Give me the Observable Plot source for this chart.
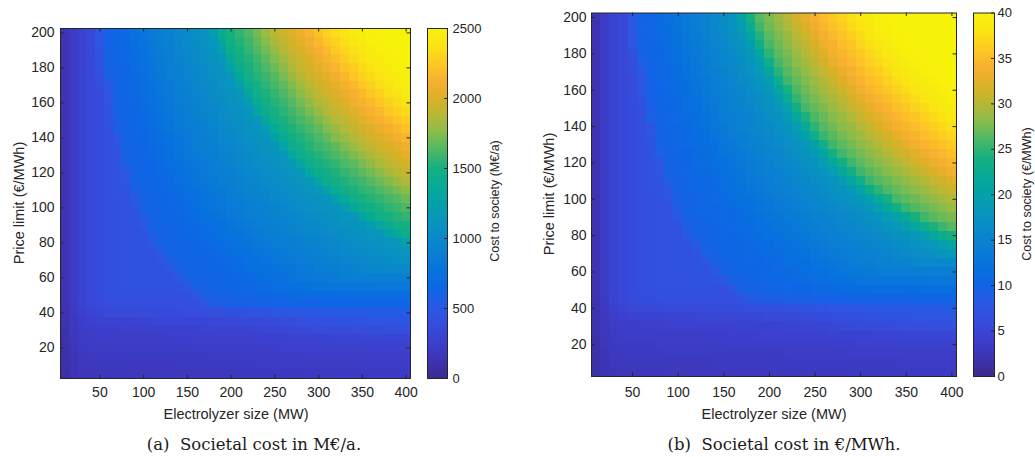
<!DOCTYPE html>
<html><head><meta charset="utf-8">
<script src="https://cdn.jsdelivr.net/npm/d3@7"></script>
<script src="https://cdn.jsdelivr.net/npm/@observablehq/plot@0.6"></script>
<style>
html,body{margin:0;padding:0;background:#fff;}
#fig{position:relative;width:1035px;height:457px;overflow:hidden;font-family:"Liberation Sans",Arial,sans-serif;color:#262626;}
.abs{position:absolute;}
.lbl{position:absolute;white-space:pre;transform:translate(-50%,-50%);line-height:1;}
.rot{transform:translate(-50%,-50%) rotate(-90deg);}
.cap{font-family:"DejaVu Serif",serif;font-size:16.5px;color:#1a1a1a;}
</style></head><body><div id="fig"></div>
<script>
// ---------------- data ----------------
const electrolyzerMW = [10,20,30,40,50,60,70,80,90,100,110,120,130,140,150,160,170,180,190,200,210,220,230,240,250,260,270,280,290,300,310,320,330,340,350,360,370,380,390,400];
const priceLimit = [200,195,190,185,180,175,170,165,160,155,150,145,140,135,130,125,120,115,110,105,100,95,90,85,80,75,70,65,60,55,50,45,40,35,30,25,20,15,10,5];

// Cost to society in M€/a (rows follow priceLimit, columns follow electrolyzerMW)
const costMEURperYear = [
[130,220,290,340,500,610,640,680,740,790,840,890,930,980,1020,1060,1100,1200,1410,1500,1570,1630,1710,1800,1880,1950,2010,2080,2140,2210,2280,2340,2380,2430,2460,2490,2500,2500,2500,2500],
[130,220,290,340,490,600,640,670,720,780,830,880,920,960,1010,1050,1090,1120,1340,1470,1530,1600,1670,1750,1840,1910,1970,2040,2100,2170,2230,2290,2350,2390,2440,2470,2490,2500,2500,2500],
[130,220,290,340,470,600,630,660,710,770,820,860,910,950,990,1030,1070,1110,1240,1430,1500,1570,1630,1710,1790,1870,1930,1990,2060,2120,2180,2250,2310,2360,2400,2440,2470,2490,2500,2500],
[130,220,290,340,450,590,630,660,700,750,800,850,890,930,980,1020,1060,1100,1130,1350,1470,1530,1590,1660,1740,1820,1890,1950,2010,2080,2140,2200,2260,2320,2370,2410,2450,2470,2490,2500],
[130,220,290,340,430,590,620,650,690,740,790,840,880,920,960,1000,1040,1080,1110,1250,1430,1500,1560,1620,1690,1770,1850,1910,1970,2030,2090,2150,2210,2270,2330,2370,2410,2450,2480,2490],
[130,220,290,340,400,570,610,640,680,730,780,830,870,910,950,980,1020,1060,1100,1130,1350,1470,1530,1580,1640,1720,1800,1870,1930,1990,2040,2100,2160,2220,2280,2330,2370,2410,2450,2480],
[130,220,290,340,380,500,610,640,670,720,760,810,850,890,930,970,1010,1040,1080,1110,1240,1410,1490,1550,1610,1670,1740,1820,1880,1940,2000,2050,2110,2170,2230,2280,2340,2370,2410,2450],
[130,220,290,340,380,480,600,630,660,700,750,800,840,880,920,950,990,1030,1060,1100,1130,1320,1450,1510,1570,1620,1690,1760,1840,1900,1950,2010,2060,2120,2170,2230,2280,2340,2370,2410],
[130,220,290,340,380,460,600,630,650,690,740,780,830,860,900,940,970,1010,1040,1080,1110,1200,1380,1480,1530,1580,1640,1710,1780,1850,1900,1960,2010,2070,2120,2170,2230,2280,2330,2370],
[130,220,290,340,380,440,590,620,650,680,720,770,810,850,890,920,960,990,1030,1060,1100,1120,1280,1430,1490,1550,1600,1650,1720,1790,1860,1910,1960,2020,2070,2120,2170,2230,2280,2330],
[130,220,290,340,380,430,580,610,640,670,710,750,790,840,870,900,940,970,1010,1040,1070,1100,1140,1330,1450,1510,1560,1610,1660,1730,1800,1860,1910,1960,2020,2070,2120,2170,2220,2270],
[130,220,290,340,380,420,570,610,630,660,690,740,780,820,860,890,920,950,990,1020,1050,1090,1110,1200,1370,1470,1520,1570,1620,1670,1740,1800,1860,1910,1960,2010,2060,2110,2160,2210],
[130,220,290,340,380,420,480,600,630,650,680,720,760,800,840,870,900,940,970,1000,1030,1060,1100,1120,1250,1400,1480,1520,1570,1620,1670,1740,1800,1860,1910,1960,2010,2050,2100,2150],
[130,220,290,340,380,420,460,600,620,640,670,700,740,780,820,860,890,920,950,980,1010,1040,1070,1100,1120,1280,1420,1480,1530,1580,1620,1670,1740,1800,1860,1900,1950,2000,2040,2090],
[130,220,290,340,380,420,440,590,610,640,660,690,730,770,800,840,870,900,930,960,990,1020,1050,1080,1100,1130,1300,1430,1490,1530,1580,1620,1670,1730,1790,1850,1900,1940,1990,2030],
[130,220,290,340,380,420,430,570,610,630,650,680,710,750,780,820,850,880,910,940,970,1000,1030,1060,1090,1110,1150,1310,1430,1490,1530,1570,1620,1660,1720,1780,1840,1880,1930,1970],
[130,220,290,340,380,420,430,480,600,620,640,660,700,730,770,800,840,860,890,920,950,980,1000,1030,1060,1090,1110,1150,1310,1430,1480,1520,1570,1610,1650,1710,1760,1820,1870,1910],
[130,220,290,340,380,420,430,460,590,610,630,650,680,710,750,780,810,850,870,900,930,950,980,1010,1040,1060,1090,1110,1150,1300,1420,1480,1520,1560,1600,1640,1690,1740,1800,1850],
[130,220,290,340,380,420,430,440,570,610,620,640,660,700,730,760,790,830,850,880,910,930,960,980,1010,1040,1060,1090,1110,1130,1280,1400,1470,1510,1550,1580,1620,1670,1720,1770],
[130,220,290,340,380,420,430,440,490,600,620,640,650,680,710,740,770,800,830,860,890,910,940,960,990,1010,1040,1060,1090,1100,1120,1250,1370,1450,1490,1530,1570,1610,1640,1690],
[130,220,290,340,380,410,420,430,460,590,610,630,640,660,690,720,750,780,810,840,860,890,910,940,960,980,1010,1030,1060,1080,1100,1120,1200,1330,1430,1480,1510,1550,1580,1620],
[130,220,290,340,380,410,420,430,440,550,600,620,630,650,670,700,730,760,790,820,840,870,890,910,940,960,980,1000,1030,1050,1070,1100,1110,1140,1280,1380,1450,1490,1530,1560],
[130,220,290,340,380,410,420,430,440,500,590,610,620,640,660,680,710,740,760,790,820,840,870,890,910,930,950,980,1000,1020,1040,1060,1090,1100,1120,1200,1320,1410,1470,1500],
[130,220,290,340,380,410,420,430,440,450,560,600,610,630,650,660,690,710,740,770,790,820,840,860,890,910,930,950,970,990,1010,1030,1050,1070,1100,1110,1130,1240,1350,1430],
[130,220,290,340,380,410,420,430,440,440,500,590,610,620,640,650,670,690,720,740,770,790,820,840,860,880,900,920,940,960,980,1000,1020,1040,1060,1080,1100,1110,1130,1250],
[130,220,290,340,380,410,420,430,440,440,440,520,600,610,620,640,650,670,690,720,740,760,790,810,830,850,870,890,910,930,950,970,990,1010,1030,1040,1060,1080,1100,1110],
[130,220,290,340,380,410,420,430,440,440,440,460,570,600,610,630,640,650,670,690,710,740,760,780,800,830,850,860,880,900,920,940,950,970,990,1010,1030,1040,1060,1080],
[130,220,290,340,380,410,420,430,440,440,440,440,480,580,600,610,630,640,650,670,690,710,730,750,770,790,810,840,850,870,890,900,920,940,950,970,980,990,990,1000],
[130,220,290,340,380,410,420,430,440,440,440,440,440,490,590,600,610,630,640,650,660,680,700,720,740,760,780,800,820,840,850,860,870,880,880,890,890,900,900,900],
[130,220,290,340,380,410,420,430,440,440,440,440,440,440,490,590,600,610,620,640,650,660,670,690,710,730,740,760,770,780,790,800,800,810,810,810,820,820,820,820],
[130,220,290,340,380,400,410,420,420,420,420,420,420,420,420,480,570,590,600,610,620,630,640,650,660,670,680,690,690,700,700,710,710,710,720,720,720,720,720,720],
[125,210,280,330,360,380,390,400,400,400,400,400,400,400,400,400,460,540,560,570,580,580,590,590,600,600,600,610,610,610,610,620,620,620,620,620,620,620,620,620],
[120,200,260,300,330,340,350,350,360,360,360,370,370,370,380,380,390,400,410,420,420,430,440,450,460,470,480,490,500,500,510,510,520,520,520,530,530,530,530,540],
[115,190,240,270,280,285,290,290,295,300,300,305,310,310,315,320,320,325,330,335,340,345,350,360,370,380,390,400,410,420,430,440,440,450,450,460,460,470,470,470],
[110,180,220,240,245,250,250,255,255,260,260,260,265,265,270,270,275,275,280,285,290,295,300,305,310,320,330,340,350,360,360,370,370,380,380,390,390,400,400,400],
[105,170,210,225,230,230,235,235,240,240,240,240,245,245,245,250,250,250,255,255,260,260,265,265,270,270,275,280,285,290,290,295,300,300,305,305,310,310,310,310],
[100,160,200,210,215,215,215,220,220,220,220,225,225,225,225,230,230,230,230,235,235,235,240,240,240,245,245,250,250,255,255,255,260,260,260,265,265,265,265,265],
[95,150,185,195,200,200,200,200,205,205,205,205,210,210,210,210,210,215,215,215,215,220,220,220,220,225,225,225,230,230,230,230,235,235,235,235,240,240,240,240],
[90,140,170,180,185,185,185,185,190,190,190,190,190,195,195,195,195,195,200,200,200,200,205,205,205,205,210,210,210,210,215,215,215,215,220,220,220,220,220,220],
[85,130,155,165,170,170,170,170,175,175,175,175,175,175,180,180,180,180,180,185,185,185,185,190,190,190,190,190,195,195,195,195,200,200,200,200,200,200,205,205]
];

// Cost to society in €/MWh (rows follow priceLimit, columns follow electrolyzerMW)
const costEURperMWh = [
[2.1,3.5,4.6,5.4,8.0,9.7,10.2,10.9,11.7,12.6,13.5,14.3,15.0,15.8,16.8,17.8,20.1,24.1,26.4,27.6,28.8,30.0,31.4,32.8,34.0,34.9,35.8,36.7,37.7,38.5,39.1,39.6,39.9,40,40,40,40,40,40,40],
[2.1,3.5,4.6,5.4,7.8,9.6,10.1,10.8,11.5,12.4,13.3,14.0,14.8,15.5,16.4,17.3,18.9,22.3,25.6,27.1,28.3,29.5,30.7,32.1,33.4,34.4,35.2,36.1,37.1,38.0,38.7,39.3,39.7,39.9,40,40,40,40,40,40],
[2.1,3.5,4.6,5.4,7.6,9.5,10.0,10.6,11.4,12.2,13.0,13.9,14.6,15.3,16.1,17.0,18.2,20.8,24.5,26.5,27.7,28.8,30.0,31.3,32.6,33.8,34.7,35.5,36.4,37.4,38.2,38.9,39.4,39.7,40,40,40,40,40,40],
[2.1,3.5,4.6,5.4,7.3,9.5,10.0,10.5,11.2,12.0,12.8,13.6,14.4,15.1,15.8,16.7,17.5,19.3,23.1,25.8,27.1,28.3,29.4,30.5,31.8,33.1,34.1,35.0,35.8,36.7,37.6,38.4,39.0,39.5,39.8,40,40,40,40,40],
[2.1,3.5,4.6,5.4,6.5,9.4,9.9,10.4,11.0,11.8,12.6,13.4,14.1,14.8,15.5,16.3,17.0,18.4,21.2,24.8,26.5,27.6,28.7,29.8,31.0,32.3,33.5,34.4,35.2,36.0,36.9,37.8,38.5,39.1,39.5,39.8,40,40,40,40],
[2.1,3.5,4.6,5.4,6.1,9.0,9.8,10.3,10.8,11.6,12.4,13.2,13.9,14.6,15.3,16.0,16.8,17.7,19.4,23.2,25.8,27.0,28.1,29.2,30.2,31.5,32.7,33.8,34.6,35.4,36.2,37.1,37.9,38.6,39.2,39.5,39.8,40,40,40],
[2.1,3.5,4.6,5.4,5.9,7.8,9.7,10.2,10.7,11.4,12.2,12.9,13.7,14.4,15.0,15.6,16.4,17.2,18.5,21.2,24.7,26.4,27.4,28.5,29.6,30.6,31.9,33.0,34.0,34.8,35.6,36.4,37.2,38.0,38.7,39.2,39.6,39.8,40,40],
[2.1,3.5,4.6,5.4,5.9,7.6,9.6,10.1,10.6,11.2,11.9,12.7,13.4,14.1,14.7,15.4,16.1,16.8,17.7,19.4,23.0,25.5,26.8,27.8,28.8,29.9,31.0,32.2,33.3,34.2,35.0,35.7,36.5,37.4,38.1,38.7,39.2,39.6,39.8,40],
[2.1,3.5,4.6,5.4,5.9,7.4,9.5,10.0,10.5,11.0,11.7,12.4,13.2,13.9,14.5,15.1,15.7,16.5,17.2,18.4,20.8,24.1,26.1,27.2,28.2,29.2,30.2,31.3,32.4,33.5,34.4,35.1,35.8,36.6,37.4,38.1,38.7,39.2,39.5,39.8],
[2.1,3.5,4.6,5.4,5.9,7.2,9.5,9.9,10.3,10.9,11.5,12.2,12.9,13.6,14.2,14.8,15.4,16.1,16.8,17.6,19.2,22.5,25.1,26.5,27.5,28.5,29.4,30.4,31.5,32.6,33.6,34.4,35.1,35.8,36.6,37.4,38.1,38.7,39.2,39.5],
[2.1,3.5,4.6,5.4,5.9,6.6,9.1,9.8,10.2,10.7,11.3,11.9,12.6,13.3,14.0,14.6,15.2,15.7,16.4,17.1,18.1,20.1,23.6,25.7,26.8,27.7,28.6,29.6,30.6,31.7,32.7,33.7,34.4,35.1,35.8,36.6,37.3,38.0,38.6,39.1],
[2.1,3.5,4.6,5.4,5.9,6.5,9.0,9.7,10.1,10.6,11.1,11.7,12.4,13.0,13.7,14.2,14.8,15.4,16.0,16.7,17.4,18.7,21.5,24.2,26.0,27.0,27.9,28.8,29.7,30.7,31.8,32.8,33.7,34.4,35.1,35.8,36.5,37.2,37.9,38.5],
[2.1,3.5,4.6,5.4,5.9,6.5,7.6,9.6,10.0,10.4,10.9,11.5,12.1,12.8,13.4,14.0,14.6,15.1,15.7,16.3,17.0,17.8,19.3,21.9,24.8,26.3,27.2,28.1,28.9,29.8,30.8,31.8,32.8,33.7,34.4,35.0,35.7,36.4,37.1,37.8],
[2.1,3.5,4.6,5.4,5.9,6.5,7.3,9.5,9.9,10.3,10.7,11.2,11.9,12.5,13.1,13.7,14.2,14.8,15.4,15.9,16.5,17.2,18.2,19.8,23.0,25.3,26.4,27.3,28.2,29.0,29.8,30.8,31.8,32.7,33.6,34.3,35.0,35.6,36.2,36.9],
[2.1,3.5,4.6,5.4,5.9,6.5,7.0,9.4,9.8,10.1,10.6,11.0,11.6,12.2,12.8,13.4,14.0,14.5,15.0,15.5,16.1,16.7,17.4,18.4,20.3,23.2,25.5,26.5,27.4,28.2,29.0,29.8,30.7,31.7,32.6,33.5,34.2,34.8,35.4,36.0],
[2.1,3.5,4.6,5.4,5.9,6.5,6.8,9.0,9.7,10.0,10.4,10.9,11.4,11.9,12.5,13.0,13.5,14.1,14.7,15.2,15.7,16.3,16.9,17.6,18.8,21.0,23.5,25.5,26.5,27.4,28.2,29.0,29.7,30.6,31.5,32.4,33.3,34.0,34.6,35.2],
[2.1,3.5,4.6,5.4,5.9,6.5,6.8,7.6,9.5,9.9,10.2,10.6,11.1,11.6,12.2,12.8,13.3,13.9,14.3,14.8,15.3,15.8,16.4,17.0,17.6,19.0,21.2,23.6,25.5,26.5,27.3,28.1,28.8,29.6,30.4,31.3,32.2,33.0,33.8,34.4],
[2.1,3.5,4.6,5.4,5.9,6.5,6.8,7.4,9.4,9.8,10.1,10.5,10.9,11.4,11.9,12.4,13.0,13.5,14.0,14.5,14.9,15.4,15.9,16.5,17.0,17.7,19.0,21.2,23.6,25.5,26.4,27.2,28.0,28.7,29.4,30.2,31.0,31.9,32.7,33.5],
[2.1,3.5,4.6,5.4,5.9,6.5,6.8,7.0,9.0,9.6,10.0,10.3,10.7,11.1,11.6,12.1,12.6,13.2,13.7,14.1,14.6,15.0,15.5,16.0,16.5,17.0,17.7,19.0,21.0,23.3,25.3,26.3,27.0,27.7,28.4,29.2,29.9,30.6,31.5,32.3],
[2.1,3.5,4.6,5.4,5.9,6.5,6.8,7.0,7.8,9.5,9.8,10.1,10.5,10.9,11.3,11.8,12.3,12.8,13.3,13.8,14.2,14.7,15.1,15.5,16.0,16.5,17.0,17.6,18.8,20.6,22.9,24.8,26.1,26.8,27.5,28.2,28.8,29.6,30.3,31.0],
[2.1,3.5,4.6,5.4,5.9,6.3,6.6,6.8,7.4,9.4,9.7,10.0,10.3,10.6,11.0,11.5,12.0,12.4,12.9,13.4,13.9,14.2,14.7,15.1,15.5,16.0,16.5,17.0,17.5,18.4,20.1,22.1,24.0,25.8,26.5,27.2,27.8,28.5,29.2,29.8],
[2.1,3.5,4.6,5.4,5.9,6.3,6.6,6.8,6.9,8.8,9.5,9.8,10.1,10.4,10.8,11.2,11.6,12.1,12.5,13.0,13.5,13.9,14.3,14.7,15.1,15.5,15.9,16.4,16.9,17.4,18.2,19.8,21.6,23.5,25.2,26.1,26.8,27.4,28.1,28.7],
[2.1,3.5,4.6,5.4,5.9,6.3,6.6,6.8,6.9,8.0,9.4,9.7,10.0,10.2,10.6,10.9,11.3,11.7,12.2,12.6,13.0,13.5,13.9,14.2,14.7,15.0,15.4,15.8,16.3,16.8,17.2,17.8,19.0,20.5,22.0,24.0,25.5,26.4,27.0,27.6],
[2.1,3.5,4.6,5.4,5.9,6.3,6.6,6.8,6.9,7.0,8.8,9.5,9.8,10.0,10.3,10.6,11.0,11.4,11.8,12.2,12.6,13.0,13.5,13.9,14.2,14.6,14.9,15.3,15.7,16.1,16.5,17.0,17.5,18.4,19.6,21.2,22.8,24.2,25.4,26.3],
[2.1,3.5,4.6,5.4,5.9,6.3,6.6,6.8,6.9,6.9,8.0,9.4,9.6,9.9,10.1,10.4,10.7,11.0,11.4,11.8,12.2,12.6,13.0,13.4,13.8,14.1,14.5,14.8,15.2,15.5,15.9,16.3,16.8,17.1,17.6,18.4,19.4,21.2,22.6,24.0],
[2.1,3.5,4.6,5.4,5.9,6.3,6.6,6.8,6.9,6.9,7.0,8.4,9.5,9.7,10.0,10.2,10.4,10.7,11.0,11.4,11.8,12.2,12.5,12.9,13.3,13.7,14.0,14.3,14.7,15.0,15.4,15.7,16.0,16.4,16.8,17.2,17.7,18.5,19.6,21.0],
[2.1,3.5,4.6,5.4,5.9,6.3,6.6,6.8,6.9,6.9,7.0,7.3,9.0,9.5,9.8,10.0,10.2,10.5,10.7,11.0,11.4,11.7,12.1,12.4,12.8,13.2,13.5,13.9,14.1,14.5,14.8,15.1,15.4,15.7,16.1,16.5,16.9,17.3,17.8,18.4],
[2.1,3.5,4.6,5.4,5.9,6.3,6.6,6.8,6.9,6.9,7.0,7.0,7.6,9.2,9.6,9.8,10.0,10.2,10.4,10.7,11.0,11.3,11.6,11.9,12.3,12.6,13.0,13.3,13.7,14.0,14.2,14.6,14.8,15.2,15.4,15.7,15.8,15.9,15.9,16.0],
[2.1,3.5,4.6,5.4,5.9,6.3,6.6,6.8,6.9,6.9,7.0,7.0,7.0,7.8,9.4,9.6,9.8,10.0,10.2,10.4,10.6,10.9,11.2,11.5,11.8,12.1,12.4,12.8,13.1,13.4,13.6,13.8,14.0,14.1,14.1,14.2,14.2,14.3,14.3,14.4],
[2.1,3.5,4.6,5.4,5.9,6.3,6.6,6.8,6.9,6.9,7.0,7.0,7.0,7.0,7.8,9.4,9.6,9.8,10.0,10.1,10.3,10.6,10.8,11.0,11.3,11.6,11.8,12.1,12.3,12.5,12.6,12.8,12.8,12.9,12.9,13.0,13.0,13.1,13.1,13.1],
[2.1,3.5,4.6,5.4,5.9,6.2,6.4,6.6,6.6,6.6,6.6,6.6,6.6,6.6,6.6,7.6,9.1,9.4,9.6,9.8,9.9,10.1,10.2,10.4,10.6,10.7,10.9,11.0,11.0,11.2,11.2,11.3,11.3,11.3,11.4,11.4,11.5,11.5,11.5,11.5],
[2.0,3.4,4.5,5.3,5.8,6.1,6.2,6.4,6.4,6.4,6.4,6.4,6.4,6.4,6.4,6.4,7.4,8.6,8.9,9.1,9.2,9.3,9.4,9.4,9.5,9.6,9.6,9.7,9.7,9.8,9.8,9.8,9.9,9.9,9.9,9.9,9.9,9.9,9.9,9.9],
[1.9,3.2,4.2,4.8,5.3,5.4,5.6,5.6,5.8,5.8,5.8,5.9,5.9,5.9,6.1,6.1,6.2,6.4,6.6,6.7,6.7,6.9,7.0,7.2,7.4,7.5,7.7,7.8,8.0,8.0,8.2,8.2,8.3,8.3,8.3,8.5,8.5,8.5,8.5,8.6],
[1.8,3.0,3.8,4.3,4.5,4.6,4.6,4.6,4.7,4.8,4.8,4.9,5.0,5.0,5.0,5.1,5.1,5.2,5.3,5.4,5.4,5.5,5.6,5.8,5.9,6.1,6.2,6.4,6.6,6.7,6.9,7.0,7.0,7.2,7.2,7.4,7.4,7.5,7.5,7.5],
[1.8,2.9,3.5,3.8,3.9,4.0,4.0,4.1,4.1,4.2,4.2,4.2,4.2,4.2,4.3,4.3,4.4,4.4,4.5,4.6,4.6,4.7,4.8,4.9,5.0,5.1,5.3,5.4,5.6,5.8,5.8,5.9,5.9,6.1,6.1,6.2,6.2,6.4,6.4,6.4],
[1.7,2.7,3.4,3.6,3.7,3.7,3.8,3.8,3.8,3.8,3.8,3.8,3.9,3.9,3.9,4.0,4.0,4.0,4.1,4.1,4.2,4.2,4.2,4.2,4.3,4.3,4.4,4.5,4.6,4.6,4.6,4.7,4.8,4.8,4.9,4.9,5.0,5.0,5.0,5.0],
[1.6,2.6,3.2,3.4,3.4,3.4,3.4,3.5,3.5,3.5,3.5,3.6,3.6,3.6,3.6,3.7,3.7,3.7,3.7,3.8,3.8,3.8,3.8,3.8,3.8,3.9,3.9,4.0,4.0,4.1,4.1,4.1,4.2,4.2,4.2,4.2,4.2,4.2,4.2,4.2],
[1.5,2.4,3.0,3.1,3.2,3.2,3.2,3.2,3.3,3.3,3.3,3.3,3.4,3.4,3.4,3.4,3.4,3.4,3.4,3.4,3.4,3.5,3.5,3.5,3.5,3.6,3.6,3.6,3.7,3.7,3.7,3.7,3.8,3.8,3.8,3.8,3.8,3.8,3.8,3.8],
[1.4,2.2,2.7,2.9,3.0,3.0,3.0,3.0,3.0,3.0,3.0,3.0,3.0,3.1,3.1,3.1,3.1,3.1,3.2,3.2,3.2,3.2,3.3,3.3,3.3,3.3,3.4,3.4,3.4,3.4,3.4,3.4,3.4,3.4,3.5,3.5,3.5,3.5,3.5,3.5],
[1.4,2.1,2.5,2.6,2.7,2.7,2.7,2.7,2.8,2.8,2.8,2.8,2.8,2.8,2.9,2.9,2.9,2.9,2.9,3.0,3.0,3.0,3.0,3.0,3.0,3.0,3.0,3.0,3.1,3.1,3.1,3.1,3.2,3.2,3.2,3.2,3.2,3.2,3.3,3.3]
];

const xTickValues = [50,100,150,200,250,300,350,400];
const yTickValues = [20,40,60,80,100,120,140,160,180,200];
const colorbarTicksA = [0,500,1000,1500,2000,2500];
const colorbarTicksB = [0,5,10,15,20,25,30,35,40];
const colorMaxA = 2500, colorMaxB = 40;

// ---------------- style ----------------
const INK = "#262626";
// colormap stops (parula-like, as rendered in the reference)
const colormapStops = ["#3b2b8e","#3d33b2","#3c3fcc","#364cdc","#2a58e4","#0f65e6","#0771de","#0a7dd4","#0a89ca","#0896bc","#04a1aa","#06aa96","#16b080","#4cb866","#86bc4c","#b8b834","#dcb026","#f8b030","#fdca22","#fae414","#f7f20a"];
const cmap = d3.piecewise(d3.interpolateRgb, colormapStops);

const fig = document.getElementById("fig");
function place(node, left, top) {
  const w = document.createElement("div");
  w.className = "abs"; w.style.left = left + "px"; w.style.top = top + "px";
  w.appendChild(node); fig.appendChild(w);
}
function label(text, cx, cy, opts = {}) {
  const d = document.createElement("div");
  d.className = "lbl" + (opts.rotate ? " rot" : "") + (opts.cls ? " " + opts.cls : "");
  d.style.left = cx + "px"; d.style.top = cy + "px";
  if (opts.size) d.style.fontSize = opts.size + "px";
  d.textContent = text; fig.appendChild(d);
}
const baseStyle = {fontFamily: "'Liberation Sans', Arial, sans-serif", fontSize: "14px", color: INK, background: "transparent", overflow: "visible"};

function heatmap(values, maxV, o) {
  const dx = electrolyzerMW[1] - electrolyzerMW[0];
  const dy = priceLimit[0] - priceLimit[1];
  const cells = priceLimit.flatMap((p, i) => electrolyzerMW.map((e, j) => ({e, p, v: values[i][j]})));
  const innerW = o.width - o.ml - o.mr, innerH = o.height - o.mt - o.mb;
  const tk = 3.5;
  return Plot.plot({
    width: o.width, height: o.height,
    marginLeft: o.ml, marginRight: o.mr, marginTop: o.mt, marginBottom: o.mb,
    style: baseStyle,
    x: {type: "linear", domain: [d3.min(electrolyzerMW) - dx / 2, d3.max(electrolyzerMW) + dx / 2]},
    y: {type: "linear", domain: [d3.min(priceLimit) - dy / 2, d3.max(priceLimit) + dy / 2]},
    color: {type: "linear", domain: [0, maxV], interpolate: cmap, clamp: true},
    marks: [
      Plot.rect(cells, {x1: d => d.e - dx / 2, x2: d => d.e + dx / 2, y1: d => d.p - dy / 2, y2: d => d.p + dy / 2, fill: "v", shapeRendering: "crispEdges"}),
      Plot.tickX(xTickValues, {x: d => d, stroke: INK, insetTop: innerH - tk}),
      Plot.tickX(xTickValues, {x: d => d, stroke: INK, insetBottom: innerH - tk}),
      Plot.tickY(yTickValues, {y: d => d, stroke: INK, insetRight: innerW - tk}),
      Plot.tickY(yTickValues, {y: d => d, stroke: INK, insetLeft: innerW - tk}),
      Plot.frame({stroke: INK, strokeWidth: 1}),
      Plot.axisX(xTickValues, {tickSize: 0, tickPadding: o.xpad, label: null, tickFormat: d => String(d)}),
      Plot.axisY(yTickValues, {tickSize: 0, tickPadding: o.ypad, label: null, tickFormat: d => String(d)})
    ]
  });
}

function colorbar(maxV, ticks, o) {
  const n = 256, step = maxV / n;
  const innerW = o.width - o.ml - o.mr;
  return Plot.plot({
    width: o.width, height: o.height,
    marginLeft: o.ml, marginRight: o.mr, marginTop: o.mt, marginBottom: o.mb,
    style: {...baseStyle, fontSize: "13px"},
    y: {type: "linear", domain: [0, maxV]},
    color: {type: "linear", domain: [0, maxV], interpolate: cmap, clamp: true},
    marks: [
      Plot.rect(d3.range(n), {y1: i => i * step, y2: i => (i + 1) * step, fill: i => (i + 0.5) * step, shapeRendering: "crispEdges"}),
      Plot.tickY(ticks, {y: d => d, stroke: INK, insetLeft: innerW - 3}),
      Plot.frame({stroke: INK, strokeWidth: 1}),
      Plot.axisY(ticks, {anchor: "right", tickSize: 0, tickPadding: o.pad, label: null, tickFormat: d => String(d)})
    ]
  });
}

// panel (a)
place(heatmap(costMEURperYear, colorMaxA, {width: 420, height: 420, ml: 60, mr: 10, mt: 28, mb: 42, xpad: 9, ypad: 6}), 0, 0);
place(colorbar(colorMaxA, colorbarTicksA, {width: 80, height: 420, ml: 0, mr: 60, mt: 28, mb: 42, pad: 5}), 427, 0);
// panel (b)
place(heatmap(costEURperMWh, colorMaxB, {width: 446, height: 420, ml: 71, mr: 10, mt: 12.5, mb: 44, xpad: 11, ypad: 5}), 520, 0);
place(colorbar(colorMaxB, colorbarTicksB, {width: 62, height: 420, ml: 0, mr: 41, mt: 12.5, mb: 44, pad: 3}), 973, 0);

label("Price limit (€/MWh)", 19, 203, {rotate: true, size: 14.5});
label("Electrolyzer size (MW)", 236, 414, {size: 14.5});
label("Cost to society (M€/a)", 495, 201, {rotate: true, size: 12.5});
label("(a)  Societal cost in M€/a.", 254, 445, {cls: "cap"});

label("Price limit (€/MWh)", 549, 194, {rotate: true, size: 14.5});
label("Electrolyzer size (MW)", 774, 414, {size: 14.5});
label("Cost to society (€/MWh)", 1027, 194, {rotate: true, size: 12.5});
label("(b)  Societal cost in €/MWh.", 784, 445, {cls: "cap"});
</script></body></html>
